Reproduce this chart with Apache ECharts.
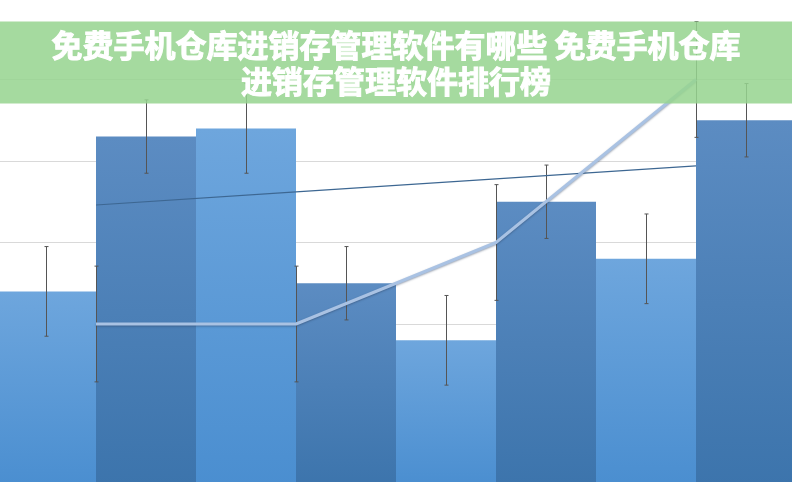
<!DOCTYPE html>
<html>
<head>
<meta charset="utf-8">
<script src="https://cdn.jsdelivr.net/npm/echarts@6/dist/echarts.min.js"></script>
<style>
html,body{margin:0;padding:0;background:#fff;overflow:hidden;width:792px;height:482px;position:relative;}
#c{width:800px;height:489px;position:absolute;left:-4px;top:-2.5px;}
</style>
</head>
<body>
<div id="c"></div>
<script>
var categories = ['1', '2', '3', '4'];
var seriesLight = [2.4, 4.4, 1.8, 2.8];
var seriesDark = [4.3, 2.5, 3.5, 4.5];
var seriesLine = [2, 2, 3, 5];
var trendDark = [3.46, 3.62, 3.78, 3.94];
var errLight = [0.55, 0.55, 0.55, 0.55];
var errDark = [0.45, 0.45, 0.45, 0.45];
var errLine = [0.71, 0.71, 0.71, 0.71];
var titleLines = ['免费手机仓库进销存管理软件有哪些 免费手机仓库', '进销存管理软件排行榜'];

function errData(vals, errs) {
  return vals.map(function (v, i) { return [i, v, errs[i]]; });
}
function errRender(offsetFrac) {
  return function (params, api) {
    var i = api.value(0), v = api.value(1), e = api.value(2);
    var catW = api.size([1, 0])[0];
    var hi = api.coord([i, v + e]);
    var lo = api.coord([i, v - e]);
    var x = Math.round(hi[0] + offsetFrac * catW) + 0.5;
    var st = { stroke: '#555555', lineWidth: 1 };
    return {
      type: 'group',
      children: [
        { type: 'line', shape: { x1: x, y1: hi[1], x2: x, y2: lo[1] }, style: st },
        { type: 'line', shape: { x1: x - 2, y1: hi[1], x2: x + 2, y2: hi[1] }, style: st },
        { type: 'line', shape: { x1: x - 2, y1: lo[1], x2: x + 2, y2: lo[1] }, style: st }
      ]
    };
  };
}
function grad(top, bottom) {
  return { type: 'linear', x: 0, y: 0, x2: 0, y2: 1, colorStops: [{ offset: 0, color: top }, { offset: 1, color: bottom }] };
}

var chart = echarts.init(document.getElementById('c'), null, { renderer: 'canvas' });
chart.setOption({
  animation: false,
  backgroundColor: '#ffffff',
  grid: { left: 0, right: 0, top: 0, bottom: 0, containLabel: false },
  xAxis: {
    type: 'category', data: categories,
    axisLine: { show: false }, axisTick: { show: false }, axisLabel: { show: false }
  },
  yAxis: {
    type: 'value', min: 0, max: 6, interval: 1,
    axisLine: { show: false }, axisTick: { show: false }, axisLabel: { show: false },
    splitLine: { lineStyle: { color: '#d9d9d9', width: 1 } }
  },
  series: [
    {
      type: 'bar', data: seriesLight, barGap: '0%', barCategoryGap: '0%',
      itemStyle: { color: grad('#6ea6dd', '#4a8ed0') }, z: 2
    },
    {
      type: 'bar', data: seriesDark, barGap: '0%', barCategoryGap: '0%',
      itemStyle: { color: grad('#5c8cc2', '#3c74ac') }, z: 2
    },
    {
      type: 'custom', data: errData(seriesLight, errLight), renderItem: errRender(-0.25), z: 4
    },
    {
      type: 'custom', data: errData(seriesDark, errDark), renderItem: errRender(0.25), z: 4
    },
    {
      type: 'custom', data: errData(seriesLine, errLine), renderItem: errRender(0), z: 4
    },
    {
      type: 'line', data: trendDark, symbol: 'none', z: 5,
      lineStyle: { color: '#3d6792', width: 1.2 }
    },
    {
      type: 'line', data: seriesLine, symbol: 'none', z: 6,
      lineStyle: { color: '#a9c2e3', width: 3, shadowColor: 'rgba(40,60,90,0.45)', shadowBlur: 2, shadowOffsetY: 1 }
    }
  ],
  graphic: [
    {
      type: 'rect', x: 0, y: 23.5, z: 100,
      shape: { width: 800, height: 82 },
      style: { fill: 'rgba(150,212,143,0.86)' }
    },
    {
      type: 'text', z: 101, x: 400, y: 47.5,
      style: {
        text: titleLines[0], fill: '#ffffff', textAlign: 'center', textVerticalAlign: 'middle',
        font: 'bold 31px "Noto Sans CJK SC", sans-serif',
        stroke: '#ffffff', lineWidth: 1
      }
    },
    {
      type: 'text', z: 101, x: 400, y: 83.5,
      style: {
        text: titleLines[1], fill: '#ffffff', textAlign: 'center', textVerticalAlign: 'middle',
        font: 'bold 31px "Noto Sans CJK SC", sans-serif',
        stroke: '#ffffff', lineWidth: 1
      }
    }
  ]
});
</script>
</body>
</html>
